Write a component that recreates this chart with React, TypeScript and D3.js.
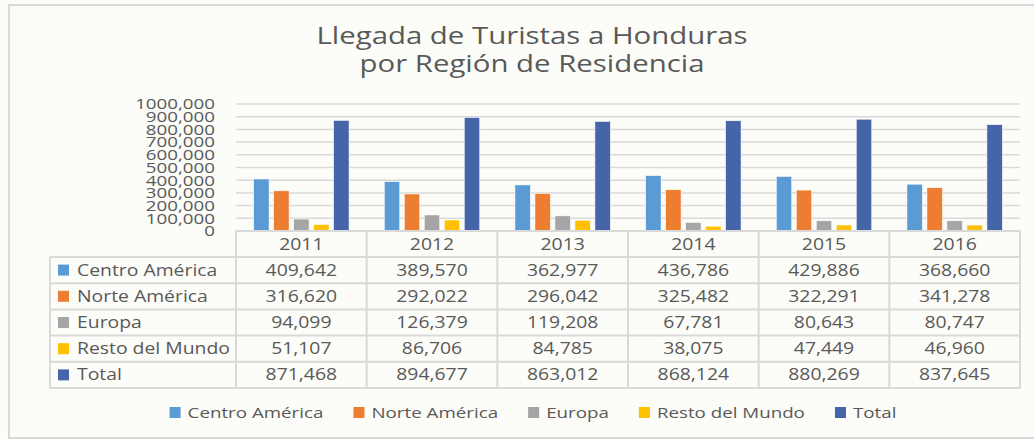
import React from "react";
import * as d3 from "d3";

const years = ["2011", "2012", "2013", "2014", "2015", "2016"];
const seriesNames = ["Centro América", "Norte América", "Europa", "Resto del Mundo", "Total"];
const centroAmerica = [409642, 389570, 362977, 436786, 429886, 368660];
const norteAmerica = [316620, 292022, 296042, 325482, 322291, 341278];
const europa = [94099, 126379, 119208, 67781, 80643, 80747];
const restoMundo = [51107, 86706, 84785, 38075, 47449, 46960];
const total = [871468, 894677, 863012, 868124, 880269, 837645];
const seriesColors = ["#5b9bd5", "#ed7d31", "#a5a5a5", "#ffc000", "#4565a8"];
const yTicks = [0, 100000, 200000, 300000, 400000, 500000, 600000, 700000, 800000, 900000, 1000000];
const yTickLabels = ["0", "100,000", "200,000", "300,000", "400,000", "500,000", "600,000", "700,000", "800,000", "900,000", "1000,000"];
const titleLines = ["Llegada de Turistas a Honduras", "por Región de Residencia"];

const seriesValues = [centroAmerica, norteAmerica, europa, restoMundo, total];

const W = 1034;
const H = 439;
const SX = 1.25;
const FONT = "'Open Sans', sans-serif";
const TEXT = "#595959";
const GRID = "#d9d9d9";
const BG = "#fcfcf8";

let measureCtx: CanvasRenderingContext2D | null = null;
function measure(text: string, size: number): number {
  if (!measureCtx) {
    const c = document.createElement("canvas");
    measureCtx = c.getContext("2d");
  }
  if (!measureCtx) return text.length * size * 0.55 * SX;
  measureCtx.font = `${size}px 'Open Sans'`;
  return measureCtx.measureText(text).width * SX;
}

function T(props: { x: number; y: number; size: number; anchor?: string; fill?: string; children: React.ReactNode }) {
  const { x, y, size, anchor = "start", fill = TEXT, children } = props;
  return (
    <text
      transform={`translate(${x},${y}) scale(${SX},1)`}
      textAnchor={anchor as any}
      fontSize={size}
      fontFamily={FONT}
      fill={fill}
    >
      {children}
    </text>
  );
}

export default function App() {
  const plotLeft = 236;
  const plotRight = 1020;
  const plotTop = 104;
  const plotBottom = 231;
  const tableLeft = 50;
  const headerBottom = 257;
  const rowH = 26.2;
  const tableBottom = headerBottom + rowH * seriesNames.length;

  const x = d3.scaleBand<string>().domain(years).range([plotLeft, plotRight]).paddingInner(0).paddingOuter(0);
  const xs = d3
    .scaleBand<string>()
    .domain(seriesNames)
    .range([0, x.bandwidth()])
    .paddingInner(0.225)
    .paddingOuter(0.88);
  const y = d3.scaleLinear().domain([0, 1000000]).range([plotBottom, plotTop]);
  const fmt = d3.format(",");

  const legendSize = 15;
  const items = seriesNames.map((n) => ({ name: n, w: 11 + 7 + measure(n, legendSize) }));
  const gap = 30;
  const legendTotal = d3.sum(items, (d) => d.w) + gap * (items.length - 1);
  let lx = 533 - legendTotal / 2;
  const legendPos = items.map((it) => {
    const p = lx;
    lx += it.w + gap;
    return p;
  });

  return (
    <svg
      width={W}
      height={H}
      style={{ position: "absolute", left: 0, top: 0, display: "block" }}
    >
      <rect x={0} y={0} width={W} height={H} fill={BG} />
      <rect x={9} y={5} width={W + 10} height={433} fill={BG} stroke={GRID} strokeWidth={2} />

      {titleLines.map((t, i) => (
        <T key={t} x={532} y={43.5 + i * 28} size={23.5} anchor="middle">
          {t}
        </T>
      ))}

      {yTicks.map((v) => (
        <line key={v} x1={plotLeft} x2={plotRight} y1={y(v)} y2={y(v)} stroke={GRID} strokeWidth={1.5} />
      ))}
      {yTicks.map((v, i) => (
        <T key={v} x={215} y={y(v) + 5.3} size={15} anchor="end">
          {yTickLabels[i]}
        </T>
      ))}

      {years.map((yr, yi) => (
        <g key={yr}>
          {seriesNames.map((s, si) => {
            const v = seriesValues[si][yi];
            const bx = (x(yr) as number) + (xs(s) as number);
            return (
              <rect
                key={s}
                x={bx}
                y={y(v)}
                width={xs.bandwidth()}
                height={y(0) - y(v)}
                fill={seriesColors[si]}
                stroke="#ffffff"
                strokeWidth={0.6}
              />
            );
          })}
        </g>
      ))}

      {/* data table */}
      <g stroke={GRID} strokeWidth={2} fill="none">
        <line x1={plotLeft} x2={plotRight} y1={plotBottom} y2={plotBottom} />
        {seriesNames.map((s, i) => (
          <line key={s} x1={tableLeft} x2={plotRight} y1={headerBottom + rowH * i} y2={headerBottom + rowH * i} />
        ))}
        <line x1={tableLeft} x2={plotRight} y1={tableBottom} y2={tableBottom} />
        <line x1={tableLeft} x2={tableLeft} y1={headerBottom} y2={tableBottom} />
        {years.map((yr) => (
          <line key={yr} x1={x(yr)} x2={x(yr)} y1={plotBottom} y2={tableBottom} />
        ))}
        <line x1={plotRight} x2={plotRight} y1={plotBottom} y2={tableBottom} />
      </g>

      {years.map((yr) => (
        <T key={yr} x={(x(yr) as number) + x.bandwidth() / 2} y={250} size={15.5} anchor="middle">
          {yr}
        </T>
      ))}

      {seriesNames.map((s, si) => {
        const cy = headerBottom + rowH * si + rowH / 2;
        return (
          <g key={s}>
            <rect x={58} y={cy - 5.5} width={11} height={11} fill={seriesColors[si]} />
            <T x={77} y={cy + 5.5} size={15.5}>
              {s}
            </T>
            {years.map((yr, yi) => (
              <T key={yr} x={(x(yr) as number) + x.bandwidth() / 2} y={cy + 5.5} size={15.5} anchor="middle">
                {fmt(seriesValues[si][yi])}
              </T>
            ))}
          </g>
        );
      })}

      {/* legend */}
      {items.map((it, i) => (
        <g key={it.name}>
          <rect x={legendPos[i]} y={407} width={11} height={11} fill={seriesColors[i]} />
          <T x={legendPos[i] + 18} y={418} size={legendSize}>
            {it.name}
          </T>
        </g>
      ))}
    </svg>
  );
}
